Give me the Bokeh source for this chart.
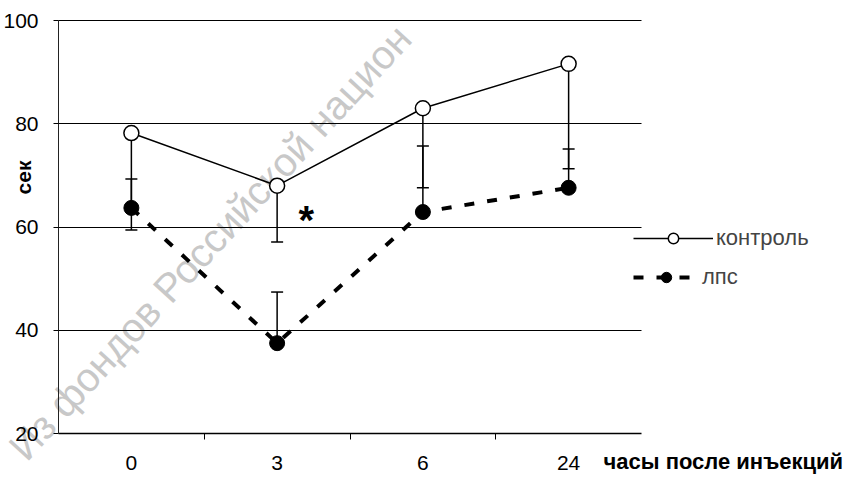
import math
from bokeh.plotting import figure
from bokeh.models import (Range1d, FixedTicker, Whisker, TeeHead, ColumnDataSource,
                          Label, Legend, LegendItem, LinearAxis, Grid)
from bokeh.embed import file_html
from bokeh.resources import INLINE

# ---- data ----
categories = ["0", "3", "6", "24"]          # hours after injection
control = [78.2, 68.0, 83.0, 91.6]          # контроль, mean
control_low = [59.4, 57.1, 67.6, 71.3]      # контроль, lower error bar
lps = [63.7, 37.5, 62.9, 67.6]              # лпс, mean
lps_high = [69.3, 47.4, 75.7, 75.1]         # лпс, upper error bar
y_min, y_max = 20, 100
y_ticks = [20, 40, 60, 80, 100]
grid_ticks = [40, 60, 80, 100]
series_names = ["контроль", "лпс"]
star_category = "3"
star_text = "*"
x_title = "часы после инъекций"
y_title = "сек"
watermark_text = "Из фондов Российской национ"   # visible part of the scan's watermark

FONT = "Liberation Sans"

# ---- layout (pixels) ----
W, H = 848, 483
F_LEFT, F_RIGHT, F_TOP, F_BOTTOM = 58, 641, 20, 433

n = len(categories)
x = [i + 0.5 for i in range(n)]
boundaries = [i for i in range(1, n)]

ppx = (F_RIGHT - F_LEFT) / n
ppy = (F_BOTTOM - F_TOP) / (y_max - y_min)
x_range = Range1d(0 - F_LEFT / ppx, n + (W - F_RIGHT) / ppx)
y_range = Range1d(y_min - (H - F_BOTTOM) / ppy, y_max + F_TOP / ppy)

src = ColumnDataSource(dict(x=x, control=control, control_low=control_low,
                            lps=lps, lps_high=lps_high))

p = figure(width=W, height=H, x_range=x_range, y_range=y_range,
           output_backend="svg", toolbar_location=None,
           x_axis_location=None, y_axis_location=None,
           min_border_left=0, min_border_right=0, min_border_top=0,
           min_border_bottom=0)
p.outline_line_color = None
p.background_fill_color = "white"
p.border_fill_color = "white"
p.center = []

# watermark
p.add_layout(Label(x=16, y=30, x_units="screen", y_units="screen", text=watermark_text,
                   angle=math.radians(47.5), text_font_size="40px", text_font=FONT,
                   text_color="#c8c8c8", text_align="left", text_baseline="middle",
                   level="image"))

# horizontal grid lines, limited to the data area
grid = Grid(dimension=1, ticker=FixedTicker(ticks=grid_ticks),
            grid_line_color="black", grid_line_width=1)
try:
    grid.cross_bounds = (0, n)
    p.add_layout(grid)
except AttributeError:
    p.segment(x0=[0] * len(grid_ticks), x1=[n] * len(grid_ticks), y0=grid_ticks,
              y1=grid_ticks, line_color="black", line_width=1)

# y axis
ya = LinearAxis(fixed_location=0, bounds=(y_min, y_max), ticker=FixedTicker(ticks=y_ticks))
ya.major_label_text_font = FONT
ya.major_label_text_font_size = "21px"
ya.major_label_text_color = "black"
ya.major_tick_out = 5
ya.major_tick_in = 0
ya.major_tick_line_color = "black"
ya.minor_tick_line_color = None
ya.axis_line_color = "#222222"
ya.axis_line_width = 1
ya.major_label_standoff = 15
p.add_layout(ya, "left")

# x axis
xa = LinearAxis(fixed_location=y_min, bounds=(0, n),
                ticker=FixedTicker(ticks=x, minor_ticks=boundaries))
xa.major_label_overrides = {xi: c for xi, c in zip(x, categories)}
xa.major_label_text_font = FONT
xa.major_label_text_font_size = "21px"
xa.major_label_text_color = "black"
xa.major_tick_line_color = None
xa.major_tick_out = 5
xa.major_tick_in = 0
xa.minor_tick_line_color = "black"
xa.minor_tick_out = 6
xa.minor_tick_in = 0
xa.axis_line_color = "black"
xa.axis_line_width = 1.5
xa.major_label_standoff = 16
p.add_layout(xa, "below")

# error bars
p.add_layout(Whisker(source=src, base="x", lower="control_low", upper="control",
                     dimension="height", line_color="black", line_width=1.5,
                     lower_head=TeeHead(size=12, line_width=1.5, line_color="black"),
                     upper_head=None))
p.add_layout(Whisker(source=src, base="x", lower="lps", upper="lps_high",
                     dimension="height", line_color="black", line_width=1.5,
                     upper_head=TeeHead(size=12, line_width=1.5, line_color="black"),
                     lower_head=None))

# series
r_lps_line = p.line("x", "lps", source=src, line_color="black", line_width=4,
                    line_dash="10 13")
r_lps_pts = p.scatter("x", "lps", source=src, marker="circle", size=15,
                      fill_color="black", line_color="black")
r_ctrl_line = p.line("x", "control", source=src, line_color="black", line_width=1.5)
r_ctrl_pts = p.scatter("x", "control", source=src, marker="circle", size=15,
                       fill_color="white", line_color="black", line_width=1.5)

# significance mark
p.add_layout(Label(x=x[categories.index(star_category)] + 0.2, y=61.3, text=star_text,
                   text_font_size="40px", text_font=FONT, text_font_style="bold",
                   text_align="center", text_baseline="alphabetic", text_color="black"))

# axis titles
p.add_layout(Label(x=23, y=H - 177, x_units="screen", y_units="screen", text=y_title,
                   angle=math.pi / 2, text_align="center", text_baseline="middle",
                   text_font=FONT, text_font_size="21px", text_font_style="bold",
                   text_color="black"))
p.add_layout(Label(x=603, y=H - 461, x_units="screen", y_units="screen", text=x_title,
                   text_align="left", text_baseline="middle", text_font=FONT,
                   text_font_size="22px", text_font_style="bold", text_color="black"))

# legends
common = dict(glyph_height=26, label_height=26, padding=0, margin=0, spacing=0,
              border_line_color=None, background_fill_alpha=0,
              label_text_font_size="22px", label_text_font=FONT, label_standoff=3)
p.add_layout(Legend(items=[LegendItem(label=series_names[0],
                                      renderers=[r_ctrl_line, r_ctrl_pts])],
                    location=(633, H - 238 - 13), glyph_width=80, **common))
p.add_layout(Legend(items=[LegendItem(label=series_names[1],
                                      renderers=[r_lps_line, r_lps_pts])],
                    location=(633, H - 277 - 13), glyph_width=66, **common))

open("out.html", "w").write(file_html(p, INLINE))
